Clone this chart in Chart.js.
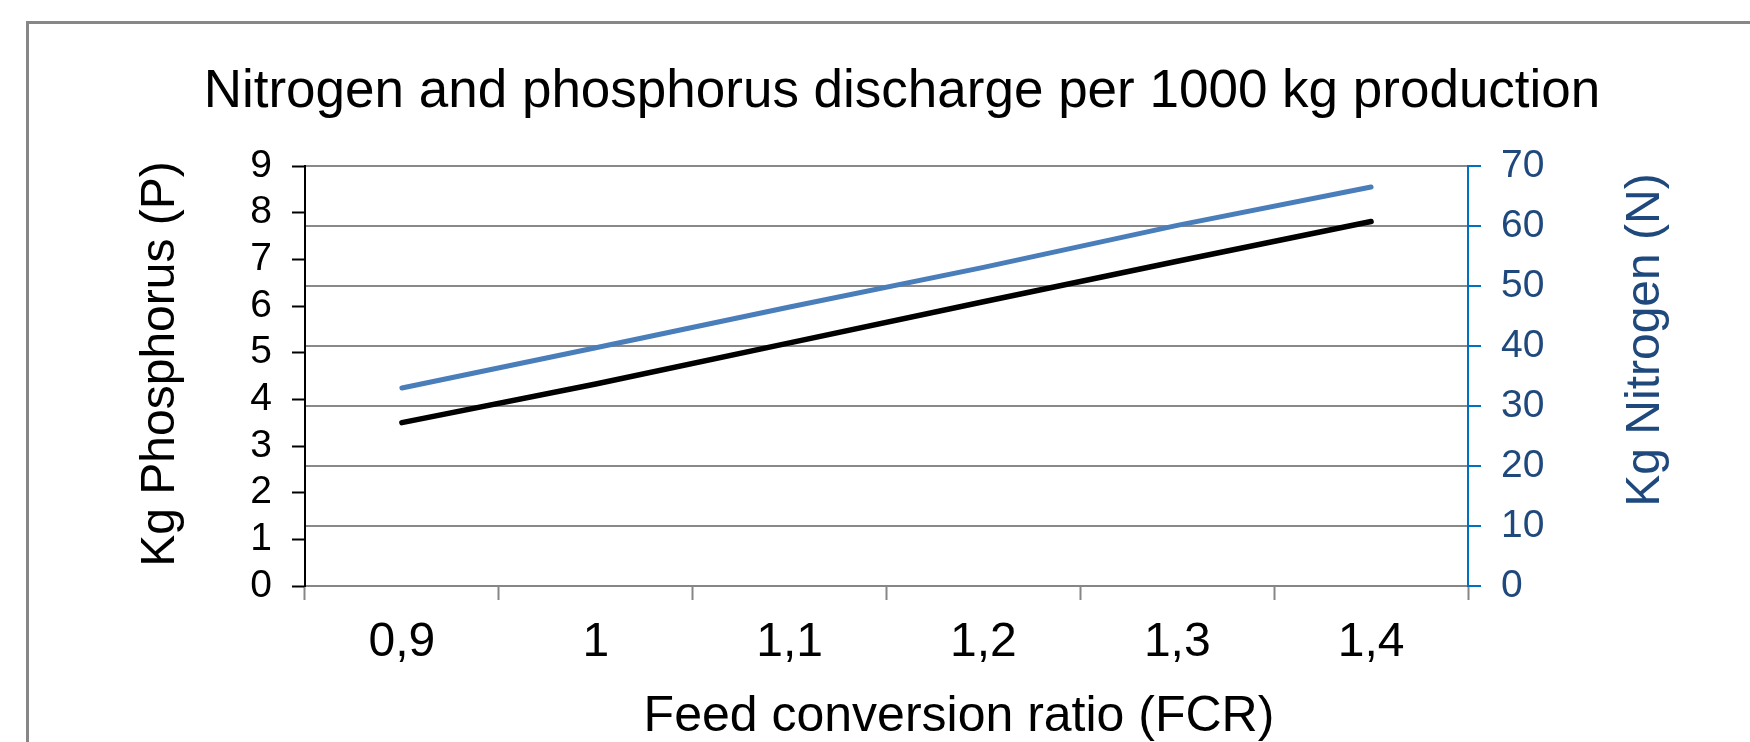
<!DOCTYPE html>
<html lang="en">
<head>
    <meta charset="UTF-8">
    <title>Nitrogen and phosphorus discharge per 1000 kg production</title>
    <script src="https://cdn.jsdelivr.net/npm/chart.js"></script>
    <style>
        body {
            margin: 0;
            padding: 0;
            background-color: #fff;
            overflow: hidden;
            font-family: "Liberation Sans", Arial, sans-serif;
        }

        .frame {
            position: absolute;
            left: 26px;
            top: 21px;
            width: 2000px;
            height: 1000px;
            border: 3px solid #878787;
        }

        canvas {
            position: absolute;
            left: 0;
            top: 0;
        }
    </style>
</head>
<body>

<div class="frame"></div>
<canvas id="mainCanvas" width="1750" height="742"></canvas>

<script>
    // datos
    const fcrLabels = ['0,9', '1', '1,1', '1,2', '1,3', '1,4'];
    const phosphorus = [3.5, 4.33, 5.21, 6.09, 6.96, 7.81];
    const nitrogen = [33.0, 39.7, 46.5, 53.1, 60.1, 66.5];

    const chartTitle = 'Nitrogen and phosphorus discharge per 1000 kg production';
    const leftTitle = 'Kg Phosphorus (P)';
    const rightTitle = 'Kg Nitrogen (N)';
    const bottomTitle = 'Feed conversion ratio (FCR)';

    const FONT = '"Liberation Sans", Arial, sans-serif';
    const darkBlue = '#1F497D';

    // titulos de los ejes dibujados a mano (el derecho va de abajo hacia arriba)
    const axisTitles = {
        id: 'axisTitles',
        afterDraw(chart) {
            const ctx = chart.ctx;
            const area = chart.chartArea;
            ctx.save();
            ctx.textAlign = 'center';
            ctx.textBaseline = 'middle';

            ctx.font = '48px ' + FONT;
            ctx.fillStyle = '#000';
            ctx.save();
            ctx.translate(161, area.top + 198);
            ctx.rotate(-Math.PI / 2);
            ctx.fillText(leftTitle, 0, 0);
            ctx.restore();

            ctx.fillStyle = darkBlue;
            ctx.save();
            ctx.translate(1646, area.top + 174);
            ctx.rotate(-Math.PI / 2);
            ctx.fillText(rightTitle, 0, 0);
            ctx.restore();

            ctx.font = '50px ' + FONT;
            ctx.fillStyle = '#000';
            ctx.fillText(bottomTitle, 959, area.bottom + 131);
            ctx.restore();
        }
    };

    const ctx = document.getElementById('mainCanvas').getContext('2d');
    const chart = new Chart(ctx, {
        type: 'line',
        data: {
            labels: fcrLabels,
            datasets: [
                {
                    label: 'P',
                    data: phosphorus,
                    yAxisID: 'y',
                    borderColor: '#000000',
                    borderWidth: 5.5,
                    borderCapStyle: 'round',
                    pointRadius: 0,
                    tension: 0
                },
                {
                    label: 'N',
                    data: nitrogen,
                    yAxisID: 'y2',
                    borderColor: '#4A7EBB',
                    borderWidth: 5,
                    borderCapStyle: 'round',
                    pointRadius: 0,
                    tension: 0
                }
            ]
        },
        options: {
            responsive: false,
            animation: false,
            layout: {
                padding: {left: 54, right: 0, top: 0, bottom: 0}
            },
            plugins: {
                legend: {display: false},
                tooltip: {enabled: false},
                title: {
                    display: true,
                    text: chartTitle,
                    color: '#000',
                    font: {family: FONT, size: 53, weight: 'normal', lineHeight: 1.2},
                    padding: {top: 61, bottom: 41.4}
                }
            },
            scales: {
                x: {
                    type: 'category',
                    offset: true,
                    grid: {
                        offset: true,
                        drawOnChartArea: false,
                        drawTicks: true,
                        tickLength: 14,
                        tickColor: '#868686',
                        tickWidth: 2
                    },
                    border: {display: true, color: '#868686', width: 2},
                    ticks: {
                        color: '#000',
                        font: {family: FONT, size: 48},
                        padding: 14,
                        maxRotation: 0,
                        autoSkip: false
                    },
                    afterFit(scale) { scale.height = 156; }
                },
                y: {
                    position: 'left',
                    min: 0,
                    max: 9,
                    ticks: {
                        stepSize: 1,
                        color: '#000',
                        font: {family: FONT, size: 39, lineHeight: 1},
                        padding: 20,
                        autoSkip: false
                    },
                    grid: {
                        drawOnChartArea: false,
                        drawTicks: true,
                        tickLength: 13,
                        tickColor: '#000',
                        tickWidth: 2
                    },
                    border: {display: true, color: '#000', width: 2},
                    afterFit(scale) { scale.width = 251; }
                },
                y2: {
                    position: 'right',
                    min: 0,
                    max: 70,
                    ticks: {
                        stepSize: 10,
                        color: darkBlue,
                        font: {family: FONT, size: 39, lineHeight: 1},
                        padding: 20,
                        autoSkip: false
                    },
                    grid: {
                        drawOnChartArea: true,
                        color: '#898989',
                        lineWidth: 2,
                        drawTicks: true,
                        tickLength: 13,
                        tickColor: '#0070C0',
                        tickWidth: 2
                    },
                    border: {display: true, color: '#0070C0', width: 2},
                    afterFit(scale) { scale.width = 282; }
                }
            }
        },
        plugins: [axisTitles]
    });
</script>
</body>
</html>
